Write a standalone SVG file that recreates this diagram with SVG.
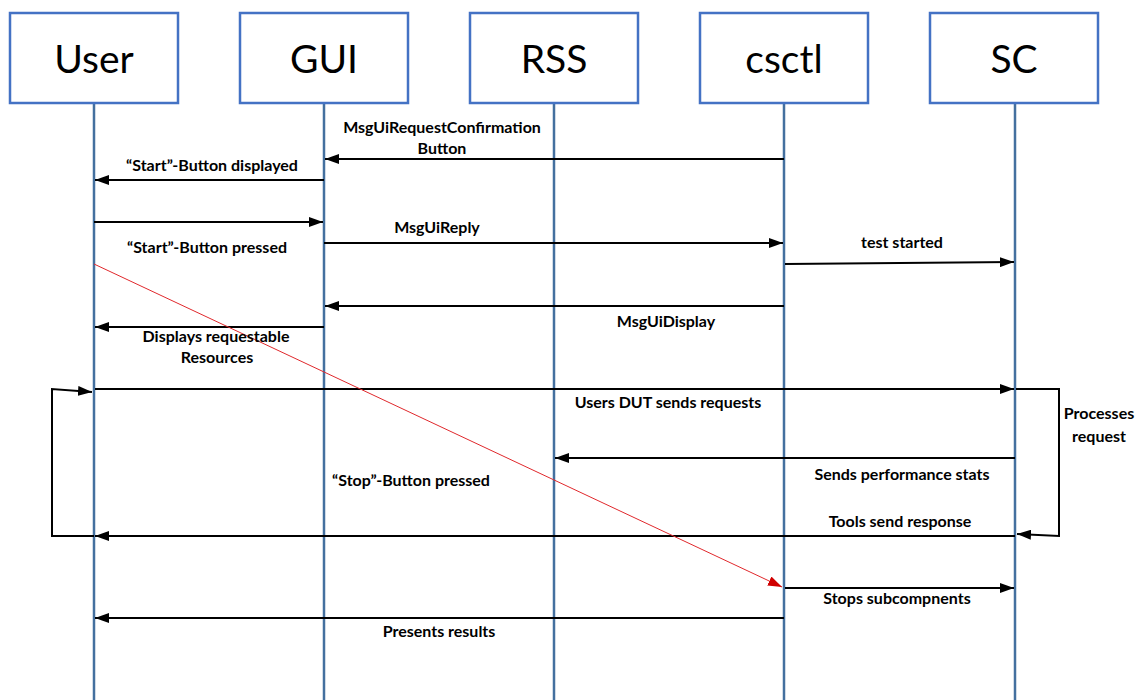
<svg xmlns="http://www.w3.org/2000/svg" width="1141" height="700" viewBox="0 0 1141 700">
<defs>
<style>
.box{fill:#fff;stroke:#4472c4;stroke-width:2.5}
.life{stroke:#44709f;stroke-width:2.5}
.title{font-family:Lato,"Open Sans","Liberation Sans",sans-serif;font-size:39px;fill:#000;text-anchor:middle}
.lbl{font-family:Lato,"Liberation Sans",sans-serif;font-size:16px;font-weight:bold;fill:#000;text-anchor:middle}
.msg{stroke:#000;stroke-width:2;fill:none}
.red{stroke:#e0282c;stroke-width:1;fill:none}
</style>
<marker id="ah" viewBox="0 0 14 10" refX="14" refY="5" markerWidth="14" markerHeight="10" markerUnits="userSpaceOnUse" orient="auto">
<path d="M0,0 L14,5 L0,10 Z" fill="#000"/>
</marker>
<marker id="ahr" viewBox="0 0 14 10" refX="14" refY="5" markerWidth="14" markerHeight="10" markerUnits="userSpaceOnUse" orient="auto">
<path d="M0,0 L14,5 L0,10 Z" fill="#d00000"/>
</marker>
</defs>
<rect width="1141" height="700" fill="#fff"/>
<g id="lifelines">
<line class="life" x1="94" y1="103" x2="94" y2="700"/>
<line class="life" x1="324" y1="103" x2="324" y2="700"/>
<line class="life" x1="554" y1="103" x2="554" y2="700"/>
<line class="life" x1="784" y1="103" x2="784" y2="700"/>
<line class="life" x1="1015" y1="103" x2="1015" y2="700"/>
</g>
<g id="node-user"><rect class="box" x="10" y="13" width="168" height="90"/><text class="title" x="94" y="73">User</text></g>
<g id="node-gui"><rect class="box" x="240" y="13" width="168" height="90"/><text class="title" x="324" y="73">GUI</text></g>
<g id="node-rss"><rect class="box" x="470" y="13" width="168" height="90"/><text class="title" x="554" y="73">RSS</text></g>
<g id="node-csctl"><rect class="box" x="700" y="13" width="168" height="90"/><text class="title" x="784" y="73">csctl</text></g>
<g id="node-sc"><rect class="box" x="930" y="13" width="168" height="90"/><text class="title" x="1014" y="73">SC</text></g>
<g id="connectors">
<line class="msg" x1="784" y1="159" x2="325" y2="159" marker-end="url(#ah)"/>
<line class="msg" x1="324" y1="180" x2="95" y2="180" marker-end="url(#ah)"/>
<line class="msg" x1="94" y1="222" x2="323" y2="222" marker-end="url(#ah)"/>
<line class="msg" x1="324" y1="243" x2="783" y2="243" marker-end="url(#ah)"/>
<line class="msg" x1="785" y1="264" x2="1014" y2="262" marker-end="url(#ah)"/>
<line class="msg" x1="784" y1="306" x2="325" y2="306" marker-end="url(#ah)"/>
<line class="msg" x1="324" y1="327" x2="95" y2="327" marker-end="url(#ah)"/>
<line class="msg" x1="95" y1="389" x2="1014" y2="389" marker-end="url(#ah)"/>
<polyline class="msg" points="1016,389 1059,389 1059,536 1017,534" marker-end="url(#ah)"/>
<line class="msg" x1="1015" y1="458" x2="555" y2="458" marker-end="url(#ah)"/>
<line class="msg" x1="1015" y1="536" x2="95" y2="536" marker-end="url(#ah)"/>
<polyline class="msg" points="94,536 52,536 52,389 92,392" marker-end="url(#ah)"/>
<line class="msg" x1="785" y1="588" x2="1014" y2="588" marker-end="url(#ah)"/>
<line class="msg" x1="784" y1="618" x2="95" y2="618" marker-end="url(#ah)"/>
<line class="red" x1="94" y1="264" x2="782" y2="587" marker-end="url(#ahr)"/>
</g>
<g id="labels">
<text class="lbl" x="442" y="133">MsgUiRequestConfirmation</text>
<text class="lbl" x="442" y="154">Button</text>
<text class="lbl" x="212" y="171">“Start”-Button displayed</text>
<text class="lbl" x="437" y="233">MsgUiReply</text>
<text class="lbl" x="207" y="253">“Start”-Button pressed</text>
<text class="lbl" x="902" y="248">test started</text>
<text class="lbl" x="666" y="327">MsgUiDisplay</text>
<text class="lbl" x="216" y="342">Displays requestable</text>
<text class="lbl" x="217" y="363">Resources</text>
<text class="lbl" x="668" y="408">Users DUT sends requests</text>
<text class="lbl" x="1099" y="419">Processes</text>
<text class="lbl" x="1099" y="442">request</text>
<text class="lbl" x="902" y="480">Sends performance stats</text>
<text class="lbl" x="411" y="486">“Stop”-Button pressed</text>
<text class="lbl" x="900" y="527">Tools send response</text>
<text class="lbl" x="897" y="604">Stops subcompnents</text>
<text class="lbl" x="439" y="637">Presents results</text>
</g>
</svg>
